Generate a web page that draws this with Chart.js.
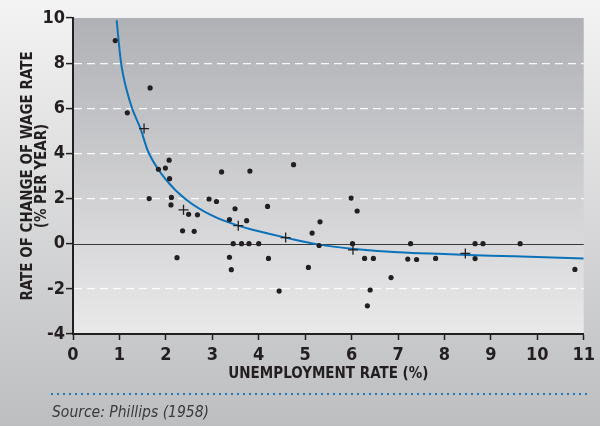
<!DOCTYPE html>
<html>
<head>
<meta charset="utf-8">
<script src="https://cdn.jsdelivr.net/npm/chart.js@4.4.1/dist/chart.umd.min.js"></script>
<style>
  html, body { margin: 0; padding: 0; }
  body { width: 600px; height: 426px; overflow: hidden; }
</style>
</head>
<body>
<canvas id="phillipsChart" width="600" height="426"></canvas>
<script>
// Observed years: unemployment rate (%) vs rate of change of wage rate (% per year)
const obsUnemp = [0.91, 1.17, 1.66, 1.64, 1.84, 1.99, 2.07, 2.08, 2.12, 2.11, 2.49, 2.68, 2.36, 2.61,
  2.24, 2.93, 3.09, 3.2, 3.81, 3.37, 3.49, 3.74, 3.45, 3.63, 3.79, 4.0, 3.37, 3.41, 4.75, 4.19,
  4.21, 4.44, 5.07, 5.15, 5.32, 5.3, 5.99, 6.12, 6.02, 6.28, 6.47, 6.85, 6.4, 6.34, 7.27, 7.21,
  7.4, 7.81, 8.66, 8.83, 8.66, 9.63, 10.81];
const obsWage = [9.0, 5.8, 6.9, 2.0, 3.3, 3.35, 3.7, 2.88, 2.05, 1.72, 1.3, 1.28, 0.57, 0.55,
  -0.62, 1.98, 1.87, 3.18, 3.22, 1.07, 1.55, 1.02, 0, 0, 0, 0, -0.6, -1.15, 3.5, 1.65,
  -0.65, -2.1, -1.05, 0.47, 0.97, -0.08, 2.02, 1.45, 0, -0.65, -0.65, -1.5, -2.05, -2.75, 0, -0.68,
  -0.7, -0.65, 0, 0, -0.66, 0, -1.14];

// Group averages (crosses)
const avgUnemp = [1.53, 2.38, 3.56, 4.58, 6.03, 8.45];
const avgWage = [5.1, 1.5, 0.8, 0.27, -0.27, -0.43];

// Fitted curve
const curveUnemp = [0.94, 1.04, 1.15, 1.28, 1.455, 1.65, 2.0, 2.44, 3.0, 3.56, 4.0, 4.58, 5.3, 6.0, 7.0, 8.0, 9.0, 10.0, 11.0];
const curveWage = [9.9, 7.95, 6.85, 5.96, 5.09, 3.94, 2.84, 1.95, 1.24, 0.8, 0.55, 0.27, -0.04, -0.22, -0.38, -0.46, -0.53, -0.59, -0.65];

// Axis ranges
const xRange = [0, 11];
const yRange = [-4, 10];
const xStep = 1;
const yStep = 2;

const FONT = "'DejaVu Sans Condensed', 'Liberation Sans', sans-serif";
const INK = '#231f20';

const toPoints = (xs, ys) => xs.map((x, i) => ({ x: x, y: ys[i] }));

const backdrop = {
    id: 'backdrop',
    beforeDraw(chart) {
        const { ctx, chartArea: a, width, height } = chart;
        ctx.save();
        let g = ctx.createLinearGradient(0, 0, 0, height);
        g.addColorStop(0, '#f3f3f3');
        g.addColorStop(1, '#bdbec0');
        ctx.fillStyle = g;
        ctx.fillRect(0, 0, width, height);
        g = ctx.createLinearGradient(0, a.top, 0, a.bottom);
        g.addColorStop(0, '#b0b1b5');
        g.addColorStop(1, '#e9e9ea');
        ctx.fillStyle = g;
        ctx.fillRect(a.left, a.top, a.right - a.left, a.bottom - a.top);
        ctx.restore();
    },
    beforeDatasetsDraw(chart) {
        // solid zero line
        const { ctx, chartArea: a } = chart;
        const y0 = Math.round(chart.scales.y.getPixelForValue(0)) + 0.5;
        ctx.save();
        ctx.strokeStyle = '#3b3b3b';
        ctx.lineWidth = 1.2;
        ctx.beginPath();
        ctx.moveTo(a.left, y0);
        ctx.lineTo(a.right, y0);
        ctx.stroke();
        ctx.restore();
    },
    afterDraw(chart) {
        const { ctx } = chart;
        ctx.save();
        ctx.strokeStyle = '#1b7cc2';
        ctx.lineWidth = 2;
        ctx.setLineDash([2, 4]);
        ctx.beginPath();
        ctx.moveTo(51, 394);
        ctx.lineTo(589, 394);
        ctx.stroke();
        ctx.setLineDash([]);
        ctx.fillStyle = '#3a3a3c';
        ctx.font = 'italic 15.5px ' + FONT;
        ctx.textBaseline = 'middle';
        ctx.fillText('Source: Phillips (1958)', 52, 413);
        ctx.restore();
    }
};

const ctx = document.getElementById('phillipsChart').getContext('2d');

new Chart(ctx, {
    type: 'scatter',
    data: {
        datasets: [{
            label: 'Observations',
            data: toPoints(obsUnemp, obsWage),
            pointRadius: 2.6,
            pointBackgroundColor: INK,
            pointBorderWidth: 0,
            order: 1
        }, {
            label: 'Averages',
            data: toPoints(avgUnemp, avgWage),
            pointStyle: 'cross',
            pointRadius: 5,
            pointBorderColor: INK,
            pointBorderWidth: 1.3,
            order: 1
        }, {
            label: 'Fitted curve',
            data: toPoints(curveUnemp, curveWage),
            showLine: true,
            borderColor: '#0b72b9',
            borderWidth: 2,
            pointRadius: 0,
            tension: 0.4,
            fill: false,
            order: 3
        }]
    },
    options: {
        responsive: false,
        animation: false,
        devicePixelRatio: 1,
        layout: {
            padding: { top: 18, right: 13, left: 0, bottom: 0 }
        },
        plugins: {
            legend: { display: false },
            tooltip: { enabled: false }
        },
        scales: {
            x: {
                type: 'linear',
                min: xRange[0],
                max: xRange[1],
                afterFit: (s) => { s.height = 92; },
                border: { color: INK, width: 2 },
                grid: {
                    drawOnChartArea: false,
                    tickLength: 6,
                    tickColor: INK,
                    tickWidth: 1.5
                },
                ticks: {
                    stepSize: xStep,
                    color: INK,
                    padding: 5,
                    maxRotation: 0,
                    font: { family: FONT, size: 18, weight: 'bold' }
                },
                title: {
                    display: true,
                    text: 'UNEMPLOYMENT RATE (%)',
                    color: INK,
                    padding: { top: 0, bottom: 43 },
                    font: { family: FONT, size: 15, weight: 'bold' }
                }
            },
            y: {
                min: yRange[0],
                max: yRange[1],
                afterFit: (s) => { s.width = 73; },
                border: { color: INK, width: 2, dash: [8, 5] },
                grid: {
                    color: (c) => {
                        const v = c.tick ? c.tick.value : null;
                        return (v === 0 || v === yRange[0] || v === yRange[1]) ? 'rgba(0,0,0,0)' : 'rgba(255,255,255,0.9)';
                    },
                    lineWidth: 1.2,
                    tickLength: 7,
                    tickColor: INK,
                    tickWidth: 1.5,
                    tickBorderDash: []
                },
                ticks: {
                    stepSize: yStep,
                    color: INK,
                    padding: 1,
                    font: { family: FONT, size: 18, weight: 'bold' }
                },
                title: {
                    display: true,
                    text: ['RATE OF CHANGE OF WAGE RATE', '(% PER YEAR)'],
                    color: INK,
                    padding: { top: 21, bottom: 0 },
                    font: { family: FONT, size: 15, weight: 'bold', lineHeight: 0.95 }
                }
            }
        }
    },
    plugins: [backdrop]
});
</script>
</body>
</html>
